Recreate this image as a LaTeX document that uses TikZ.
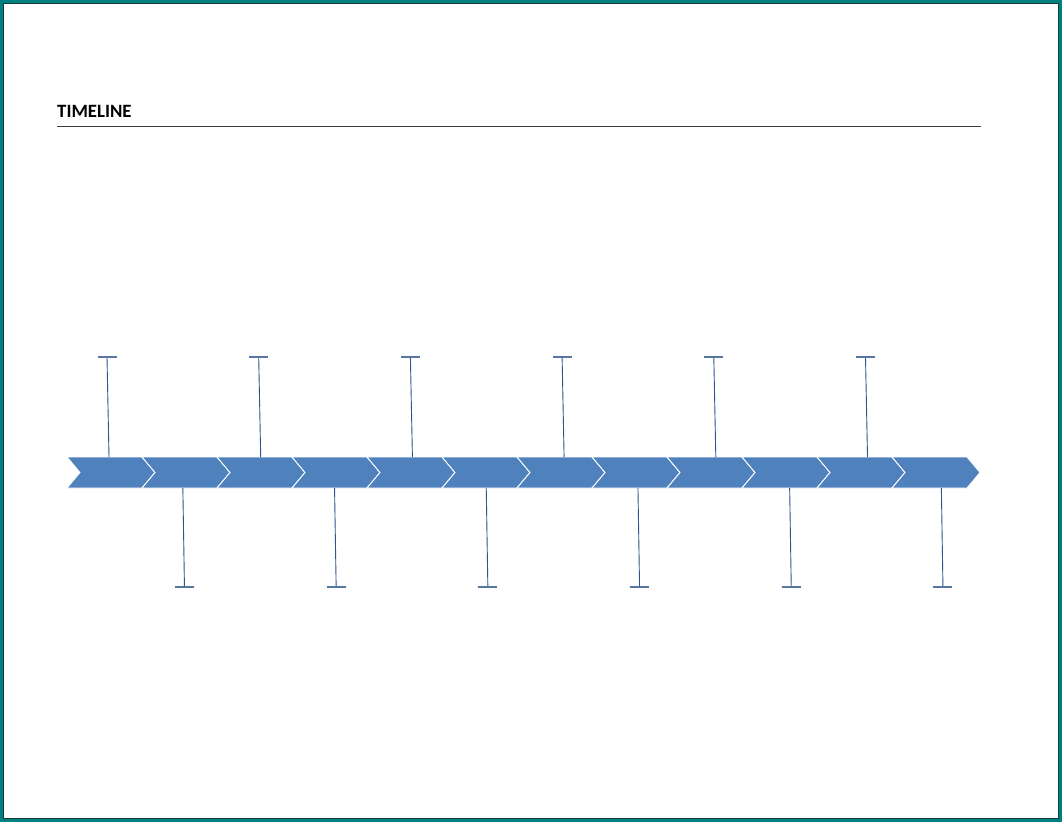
\documentclass[tikz,border=0pt]{standalone}
\usepackage{fontspec}
\setmainfont{Carlito}
\definecolor{frameteal}{RGB}{0,128,128}
\definecolor{framedark}{RGB}{20,60,60}
\definecolor{chevfill}{RGB}{79,129,189}
\definecolor{tickblue}{RGB}{48,84,140}
\definecolor{rulegray}{RGB}{60,60,60}
\tikzset{
  chev/.style={fill=chevfill,draw=white,line width=0.9pt,line join=miter},
  tickline/.style={draw=tickblue,line width=0.9pt},
  tickbar/.style={draw=tickblue!80,line width=1.2pt},
}
\begin{document}
\begin{tikzpicture}[x=1pt,y=-1pt]
\useasboundingbox (0,0) rectangle (1062,822);
\fill[white] (0,0) rectangle (1062,822);
% frame
\draw[frameteal,line width=3pt] (1.5,1.5) rectangle (1060.5,820.5);
\draw[framedark,line width=0.8pt] (3.4,3.4) rectangle (1058.6,818.6);
% title
\node[anchor=base west,inner sep=0pt,font=\bfseries\fontsize{18.8}{21}\selectfont] (title) at (57,117) {TIMELINE};
\coordinate (rl) at (57,126);
\coordinate (rr) at (981,126);
\draw[rulegray,line width=1pt] (rl) -- (rr);
% chevrons
\foreach \i in {0,...,11}{
  \pgfmathsetmacro{\xl}{67+75*\i}
  \pgfmathsetmacro{\xr}{142+75*\i}
  \path[chev] (\xl,457) -- (\xr,457) -- ({\xr+13},472.5) -- (\xr,488) -- (\xl,488) -- ({\xl+13},472.5) -- cycle;
}
% ticks
\foreach \k in {0,...,11}{
  \pgfmathsetmacro{\tx}{107+75.85*\k}
  \pgfmathparse{int(mod(\k,2))}
  \ifnum\pgfmathresult=0
    \coordinate (a\k) at ({\tx+2},457);
    \coordinate (b\k) at (\tx,357);
    \draw[tickline] (a\k) -- (b\k);
    \draw[tickbar] ([xshift=-9.5pt]b\k) -- ([xshift=9.5pt]b\k);
  \else
    \coordinate (a\k) at (\tx,488);
    \coordinate (b\k) at ({\tx+1.6},587);
    \draw[tickline] (a\k) -- (b\k);
    \draw[tickbar] ([xshift=-9.5pt]b\k) -- ([xshift=9.5pt]b\k);
  \fi
}
\end{tikzpicture}
\end{document}
